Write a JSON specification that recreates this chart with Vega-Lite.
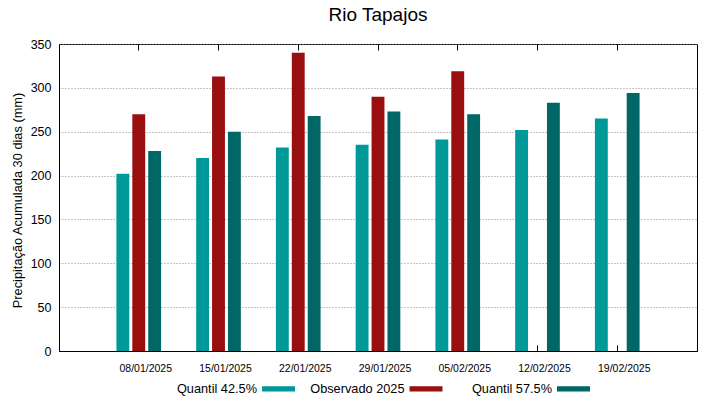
{
  "$schema": "https://vega.github.io/schema/vega-lite/v6.json",
  "width": 638,
  "height": 307,
  "autosize": "none",
  "padding": {"left": 59, "top": 44, "right": 22, "bottom": 48},
  "background": "white",
  "title": {"text": "Rio Tapajos", "fontSize": 19, "font": "Liberation Sans", "fontWeight": "normal", "anchor": "middle", "frame": "group", "offset": -2, "baseline": "alphabetic", "color": "black"},
  "config": {
    "view": {"stroke": "black", "strokeWidth": 1},
    "font": "Liberation Sans",
    "axis": {"labelFont": "Liberation Sans", "titleFont": "Liberation Sans", "labelColor": "black", "titleColor": "black", "domainColor": "black", "tickColor": "black"}
  },
  "data": {
    "values": [
      {"date": "08/01/2025", "serie": "Quantil 42.5%", "valor": 202},
      {"date": "08/01/2025", "serie": "Observado 2025", "valor": 270},
      {"date": "08/01/2025", "serie": "Quantil 57.5%", "valor": 228},
      {"date": "15/01/2025", "serie": "Quantil 42.5%", "valor": 220},
      {"date": "15/01/2025", "serie": "Observado 2025", "valor": 313},
      {"date": "15/01/2025", "serie": "Quantil 57.5%", "valor": 250},
      {"date": "22/01/2025", "serie": "Quantil 42.5%", "valor": 232},
      {"date": "22/01/2025", "serie": "Observado 2025", "valor": 340},
      {"date": "22/01/2025", "serie": "Quantil 57.5%", "valor": 268},
      {"date": "29/01/2025", "serie": "Quantil 42.5%", "valor": 235},
      {"date": "29/01/2025", "serie": "Observado 2025", "valor": 290},
      {"date": "29/01/2025", "serie": "Quantil 57.5%", "valor": 273},
      {"date": "05/02/2025", "serie": "Quantil 42.5%", "valor": 241},
      {"date": "05/02/2025", "serie": "Observado 2025", "valor": 319},
      {"date": "05/02/2025", "serie": "Quantil 57.5%", "valor": 270},
      {"date": "12/02/2025", "serie": "Quantil 42.5%", "valor": 252},
      {"date": "12/02/2025", "serie": "Quantil 57.5%", "valor": 283},
      {"date": "19/02/2025", "serie": "Quantil 42.5%", "valor": 265},
      {"date": "19/02/2025", "serie": "Quantil 57.5%", "valor": 294}
    ]
  },
  "layer": [
    {
      "mark": {"type": "bar"},
      "encoding": {
        "x": {
          "field": "date", "type": "nominal", "sort": null,
          "scale": {"paddingInner": 0.4, "paddingOuter": 0.7},
          "axis": {"title": null, "labelAngle": 0, "labelFontSize": 10.5, "labelOffset": 7, "tickSize": -6, "labelPadding": 18}
        },
        "xOffset": {
          "field": "serie", "type": "nominal",
          "sort": ["Quantil 42.5%", "Observado 2025", "Quantil 57.5%"],
          "scale": {"domain": ["Quantil 42.5%", "Observado 2025", "Quantil 57.5%"], "paddingInner": 0.19, "paddingOuter": 0.1}
        },
        "y": {
          "field": "valor", "type": "quantitative",
          "scale": {"domain": [0, 350], "nice": false},
          "axis": {
            "title": "Precipitação Acumulada 30 dias (mm)",
            "values": [0, 50, 100, 150, 200, 250, 300, 350],
            "ticks": false, "labelPadding": 8, "labelFontSize": 12.5,
            "grid": true, "gridDash": [1, 2], "gridColor": "#8c8c8c", "gridWidth": 1,
            "titleFontSize": 12.8, "titleFontWeight": "normal",
            "titleX": -42, "titleY": 156, "titleAngle": -90, "titleAlign": "center", "titleBaseline": "middle"
          }
        },
        "color": {
          "field": "serie", "type": "nominal",
          "scale": {"domain": ["Quantil 42.5%", "Observado 2025", "Quantil 57.5%"], "range": ["#009999", "#990e0e", "#006666"]},
          "legend": {
            "orient": "none", "legendX": 203, "legendY": 328, "direction": "horizontal",
            "title": null, "padding": 0,
            "symbolType": "M-1,-0.16L1,-0.16L1,0.16L-1,0.16Z", "symbolSize": 1089, "symbolStrokeWidth": 0,
            "labelAlign": "right", "labelOffset": -38, "labelFontSize": 12.75, "labelColor": "black",
            "labelFont": "Liberation Sans", "labelLimit": 0, "columnPadding": 14.5, "gridAlign": "all"
          }
        }
      }
    },
    {
      "mark": {"type": "rule", "opacity": 0},
      "encoding": {
        "x": {
          "field": "date", "type": "nominal", "sort": null,
          "axis": {"orient": "top", "labels": false, "domain": false, "title": null, "tickSize": -6}
        }
      }
    }
  ],
  "resolve": {"axis": {"x": "independent"}}
}
